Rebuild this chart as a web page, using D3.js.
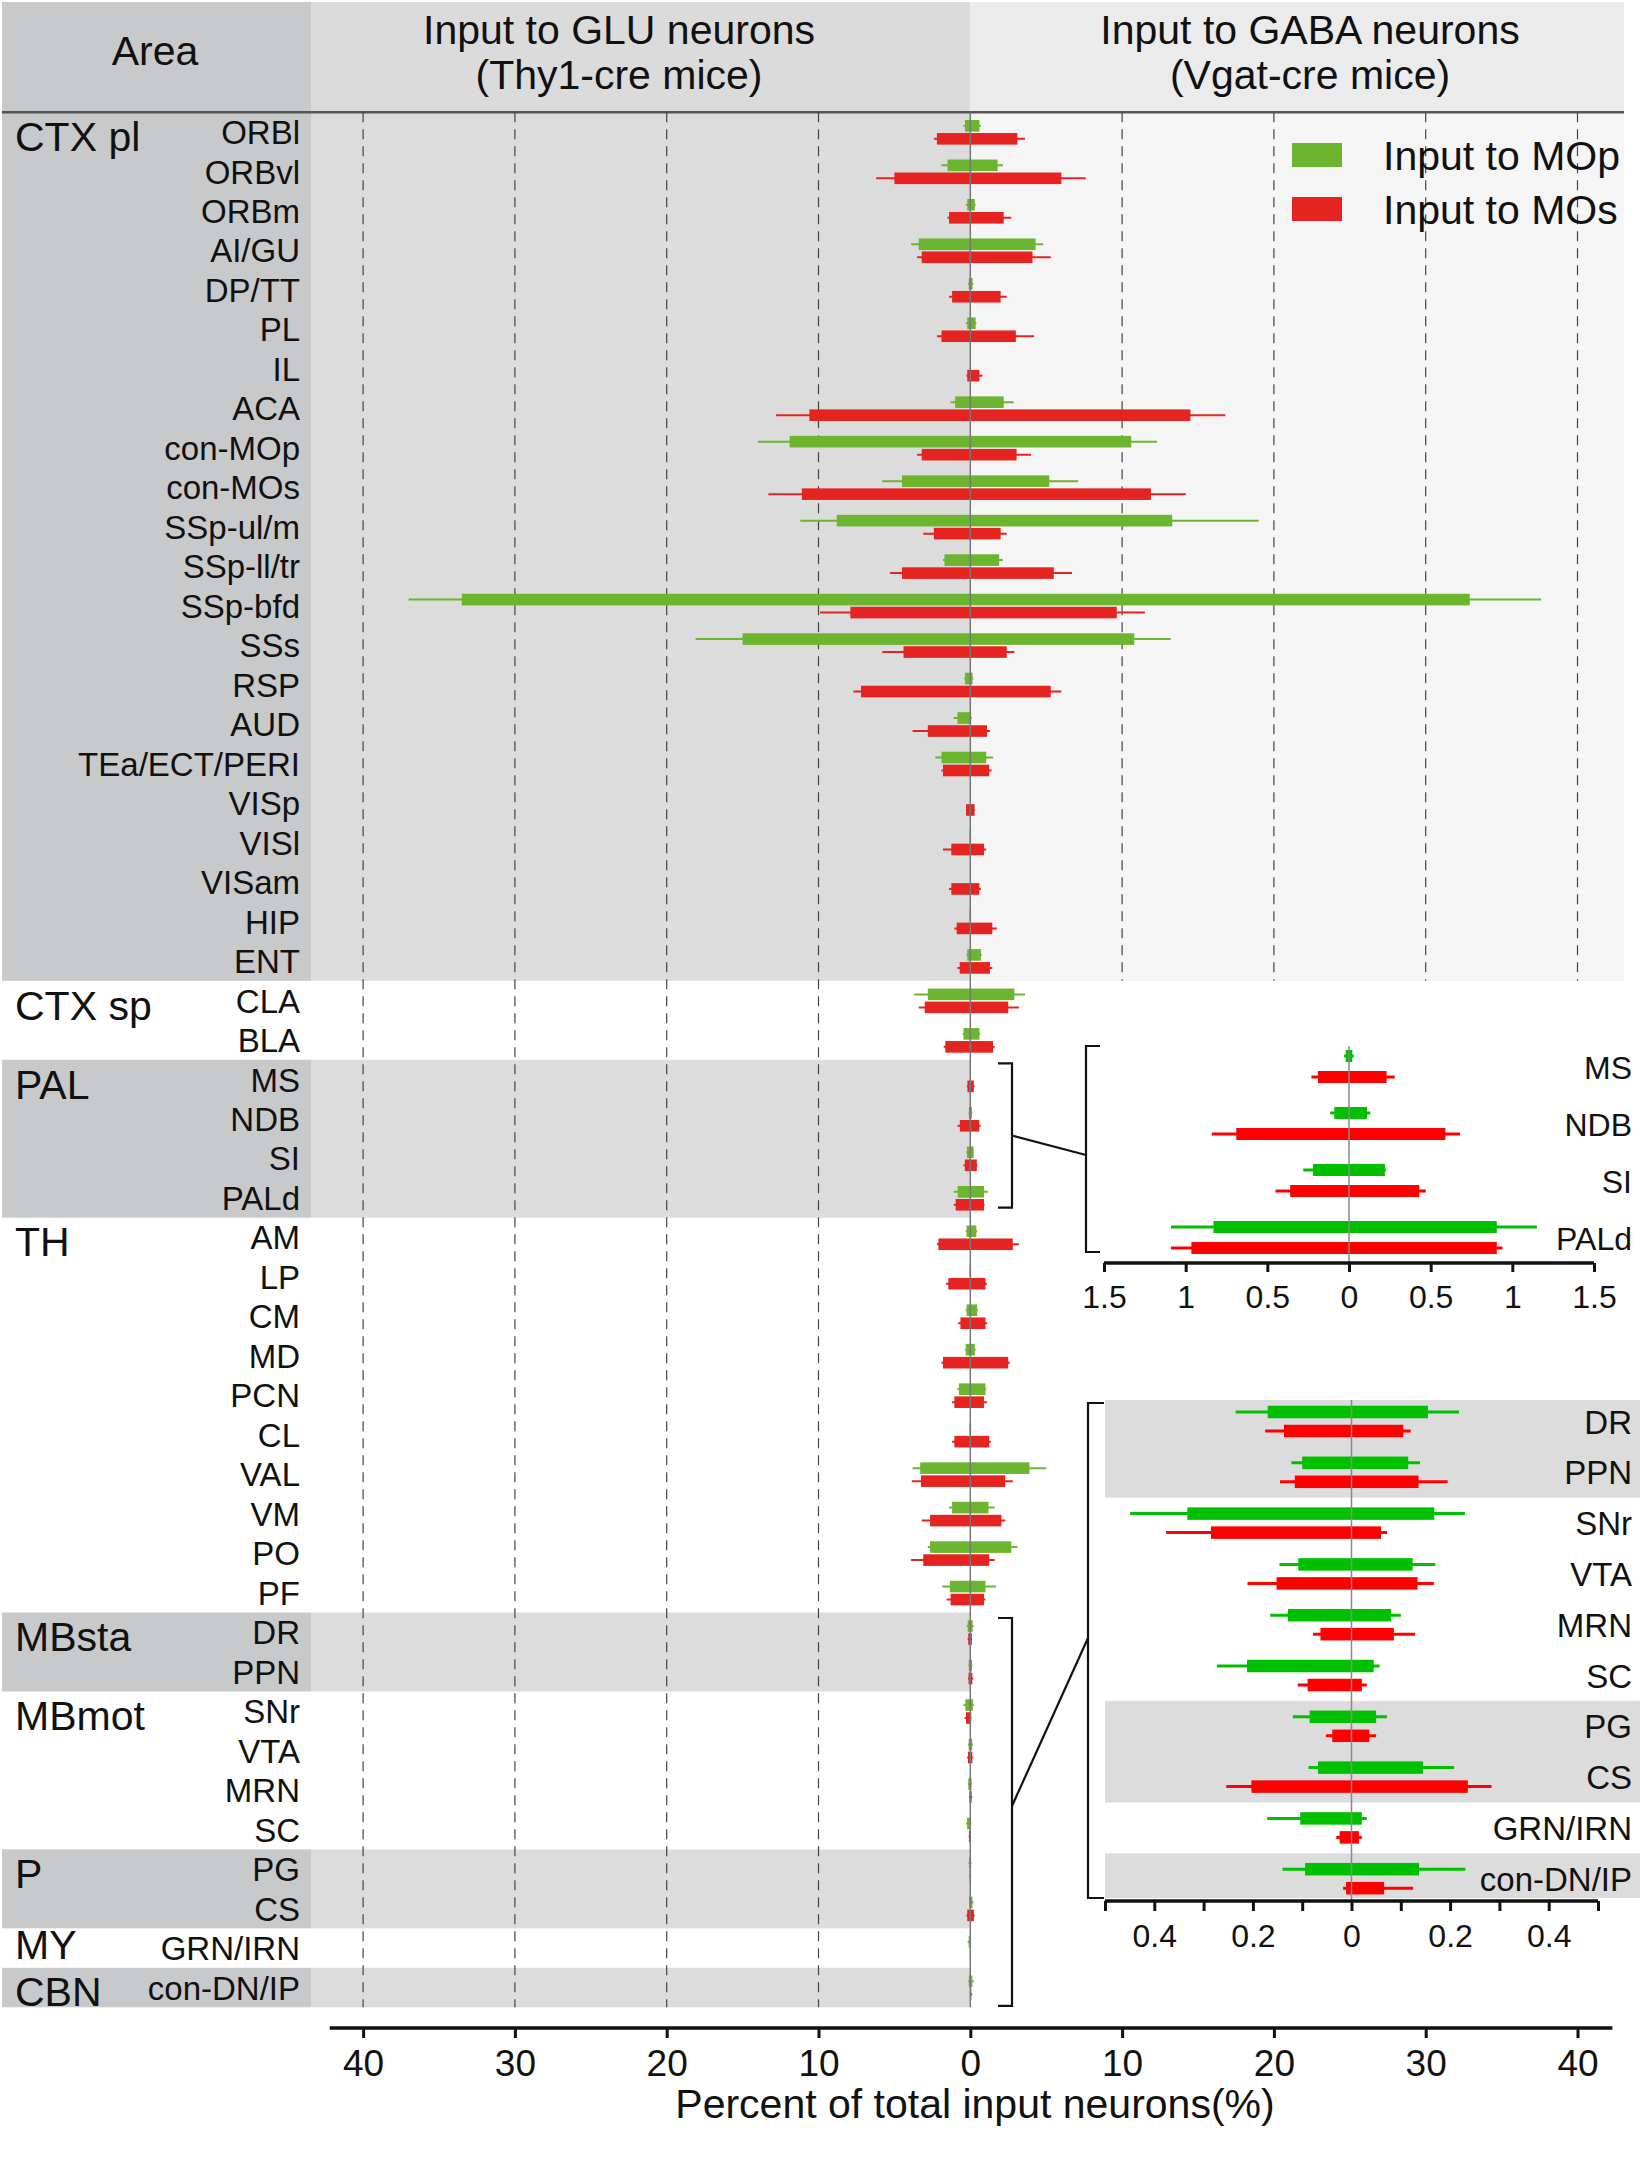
<!DOCTYPE html>
<html>
<head>
<meta charset="utf-8">
<script src="https://cdn.jsdelivr.net/npm/d3@7"></script>
<style>
body { margin: 0; background: #fff; }
text { font-family: Arial, "Liberation Sans", sans-serif; fill: #111; }
</style>
</head>
<body>
<div class="canvas"></div>
<script>
const w = 1650;
const h = 2165;

// ---- data ----
const regions = ["ORBl","ORBvl","ORBm","AI/GU","DP/TT","PL","IL","ACA","con-MOp","con-MOs",
  "SSp-ul/m","SSp-ll/tr","SSp-bfd","SSs","RSP","AUD","TEa/ECT/PERI","VISp","VISl","VISam","HIP","ENT",
  "CLA","BLA",
  "MS","NDB","SI","PALd",
  "AM","LP","CM","MD","PCN","CL","VAL","VM","PO","PF",
  "DR","PPN",
  "SNr","VTA","MRN","SC",
  "PG","CS",
  "GRN/IRN",
  "con-DN/IP"];

const sectionNames = ["CTX pl","CTX sp","PAL","TH","MBsta","MBmot","P","MY","CBN"];
const sectionSizes = [22, 2, 4, 10, 2, 4, 2, 1, 1];
const sectionShaded = [true, false, true, false, true, false, true, false, true];
// baseline shift of the section label below its first row centre
const sectionLabelShift = [19, 19, 19, 19, 19, 19, 19, 11, 18];

// Input to MOp (green): GLU side (Thy1-cre) and GABA side (Vgat-cre), mean and SEM
const mopGlu = [0.35,1.5,0.2,3.4,0.1,0.2,0.02,1.0,11.9,4.5,8.8,1.7,33.5,15.0,0.35,0.85,1.9,0.02,0.05,0.02,0.05,0.2,
  2.8,0.45, 0.02,0.09,0.22,0.83,
  0.25,0.05,0.25,0.3,0.75,0.05,3.3,1.2,2.65,1.35,
  0.17,0.10, 0.333,0.108,0.129,0.212, 0.085,0.068, 0.104, 0.094];
const mopGluSem = [0.1,0.4,0.1,0.5,0.05,0.1,0,0.3,2.1,1.3,2.4,0.1,3.5,3.1,0.05,0.25,0.4,0,0,0,0,0.05,
  0.9,0.05, 0.01,0.025,0.06,0.26,
  0.05,0,0.05,0.05,0.1,0,0.5,0.2,0.15,0.5,
  0.065,0.022, 0.116,0.038,0.036,0.061, 0.034,0.019, 0.067, 0.046];
const mopGaba = [0.6,1.8,0.3,4.3,0.15,0.35,0.02,2.2,10.6,5.2,13.3,1.9,32.9,10.8,0.15,0.05,1.05,0.02,0.05,0.02,0.05,0.7,
  2.9,0.6, 0.02,0.11,0.22,0.905,
  0.4,0.05,0.45,0.3,1.0,0.05,3.9,1.2,2.7,1.0,
  0.155,0.115, 0.168,0.124,0.08,0.045, 0.05,0.145, 0.021, 0.137];
const mopGabaSem = [0.1,0.35,0.05,0.5,0.05,0.05,0,0.65,1.7,1.9,5.7,0.25,4.7,2.4,0.05,0.05,0.45,0,0,0,0,0.05,
  0.7,0.05, 0.01,0.02,0.005,0.245,
  0.05,0,0.05,0.05,0.05,0,1.1,0.4,0.4,0.7,
  0.063,0.024, 0.062,0.046,0.02,0.012, 0.022,0.063, 0.01, 0.094];

// Input to MOs (red)
const mosGlu = [2.2,5.0,1.4,3.2,1.2,1.9,0.2,10.6,3.2,11.1,2.4,4.5,7.9,4.4,7.2,2.8,1.8,0.28,1.25,1.25,0.9,0.7,
  3.0,1.65, 0.19,0.69,0.36,0.965,
  2.1,1.45,0.65,1.8,1.05,1.05,3.25,2.65,3.1,1.3,
  0.137,0.115, 0.285,0.152,0.063,0.089, 0.039,0.203, 0.024, 0.011];
const mosGluSem = [0.2,1.2,0.1,0.3,0.2,0.3,0.05,2.2,0.3,2.2,0.7,0.8,2.0,1.4,0.5,1.0,0.1,0,0.55,0.15,0.15,0.15,
  0.4,0.1, 0.04,0.15,0.09,0.125,
  0.1,0.15,0.15,0.1,0.15,0.15,0.6,0.55,0.8,0.25,
  0.038,0.03, 0.091,0.059,0.015,0.02, 0.013,0.051, 0.007, 0.006];
const mosGaba = [3.1,6.0,2.2,4.1,2.0,3.0,0.6,14.5,3.05,11.9,2.0,5.5,9.65,2.4,5.3,1.1,1.25,0.28,0.9,0.6,1.45,1.3,
  2.5,1.5, 0.23,0.59,0.43,0.905,
  2.8,1.0,1.0,2.5,0.9,1.25,2.3,2.05,1.25,0.9,
  0.105,0.136, 0.06,0.134,0.086,0.021, 0.036,0.236, 0.015, 0.066];
const mosGabaSem = [0.5,1.6,0.5,1.2,0.4,1.2,0.2,2.3,0.95,2.3,0.4,1.2,1.85,0.5,0.7,0.2,0.15,0,0.15,0.1,0.3,0.15,
  0.7,0.1, 0.05,0.09,0.04,0.035,
  0.4,0.1,0.1,0.1,0.2,0.1,0.5,0.25,0.35,0.1,
  0.015,0.059, 0.012,0.033,0.043,0.01, 0.014,0.048, 0.006, 0.059];

const xTicks = [-40, -30, -20, -10, 0, 10, 20, 30, 40];
const inset1Ticks = [-1.5, -1, -0.5, 0, 0.5, 1, 1.5];
const inset2Ticks = [-0.5, -0.4, -0.3, -0.2, -0.1, 0, 0.1, 0.2, 0.3, 0.4, 0.5];
const inset2Labels = [-0.4, -0.2, 0, 0.2, 0.4];
const inset1Regions = ["MS","NDB","SI","PALd"];
const inset2Regions = ["DR","PPN","SNr","VTA","MRN","SC","PG","CS","GRN/IRN","con-DN/IP"];

const legendLabels = ["Input to MOp", "Input to MOs"];
const mainColors = ["#6cb52f", "#e52421"];
const insetColors = ["#00c000", "#ff0000"];

// ---- build rows ----
const sectionOf = [];
sectionNames.forEach((s, k) => { for (let j = 0; j < sectionSizes[k]; j++) sectionOf.push(k); });

const rows = regions.map((r, i) => ({
  name: r,
  section: sectionOf[i],
  series: [
    {glu: mopGlu[i], gluSem: mopGluSem[i], gaba: mopGaba[i], gabaSem: mopGabaSem[i]},
    {glu: mosGlu[i], gluSem: mosGluSem[i], gaba: mosGaba[i], gabaSem: mosGabaSem[i]}
  ]
}));
const rowByName = new Map(rows.map(d => [d.name, d]));

// ---- scales ----
const x = d3.scaleLinear().domain([-40, 40]).range([363.1, 1577.5]);
const y = d3.scaleBand().domain(regions).range([112.3, 2007.3]);
const bw = y.bandwidth();
const yc = r => y(r) + bw / 2;

const xi1 = d3.scaleLinear().domain([-1.5, 1.5]).range([1104, 1594]);
const yi1 = d3.scaleBand().domain(inset1Regions).range([1038, 1266]);
const xi2 = d3.scaleLinear().domain([-0.5, 0.5]).range([1105, 1598]);
const yi2 = d3.scaleBand().domain(inset2Regions).range([1396.1, 1904.1]);

const svg = d3.select(".canvas")
  .append("svg")
  .attr("width", w)
  .attr("height", h);

const areaRight = 311;
const plotRight = 1624;

// ---- backgrounds ----
const bg = svg.append("g");
bg.append("rect").attr("x", 2).attr("y", 2).attr("width", areaRight - 2).attr("height", 110.3).attr("fill", "#c8c9cb");
bg.append("rect").attr("x", areaRight).attr("y", 2).attr("width", x(0) - areaRight).attr("height", 110.3).attr("fill", "#dbdbdb");
bg.append("rect").attr("x", x(0)).attr("y", 2).attr("width", plotRight - x(0)).attr("height", 110.3).attr("fill", "#ebebec");

let start = 0;
const sections = sectionNames.map((s, k) => {
  const first = regions[start];
  const sec = {name: s, first: first, size: sectionSizes[k], shift: sectionLabelShift[k], top: y(first),
    bottom: y(first) + sectionSizes[k] * bw, shaded: sectionShaded[k]};
  start += sectionSizes[k];
  return sec;
});

sections.filter(s => s.shaded).forEach(s => {
  bg.append("rect").attr("x", 2).attr("y", s.top).attr("width", areaRight - 2).attr("height", s.bottom - s.top).attr("fill", "#c8c9cb");
  bg.append("rect").attr("x", areaRight).attr("y", s.top).attr("width", x(0) - areaRight).attr("height", s.bottom - s.top).attr("fill", "#dcdcdc");
  if (s.name === "CTX pl") {
    bg.append("rect").attr("x", x(0)).attr("y", s.top).attr("width", plotRight - x(0)).attr("height", s.bottom - s.top).attr("fill", "#f5f5f5");
  }
});

// header line
svg.append("line").attr("x1", 2).attr("x2", plotRight).attr("y1", 112.3).attr("y2", 112.3)
  .attr("stroke", "#555").attr("stroke-width", 2.5);

// header texts
const head = svg.append("g").style("font-size", "41px").attr("text-anchor", "middle");
head.append("text").attr("x", 155).attr("y", 65).text("Area");
head.append("text").attr("x", 619).attr("y", 44).text("Input to GLU neurons");
head.append("text").attr("x", 619).attr("y", 89).text("(Thy1-cre mice)");
head.append("text").attr("x", 1310).attr("y", 44).text("Input to GABA neurons");
head.append("text").attr("x", 1310).attr("y", 89).text("(Vgat-cre mice)");

// ---- grid ----
const ctxBottom = sections[0].bottom;
const grid = svg.append("g").attr("stroke", "#444").attr("stroke-width", 1.2).attr("stroke-dasharray", "10,7");
grid.selectAll("line.l").data(xTicks.filter(t => t < 0)).enter().append("line")
  .attr("x1", d => x(d)).attr("x2", d => x(d)).attr("y1", 112.3).attr("y2", 2007.3);
grid.selectAll("line.r").data(xTicks.filter(t => t > 0)).enter().append("line")
  .attr("x1", d => x(d)).attr("x2", d => x(d)).attr("y1", 112.3).attr("y2", ctxBottom);

// ---- bars ----
function drawBars(g, data, xs, ycenter, offsets, barH, colors, whiskerW) {
  data.forEach(d => {
    d.series.forEach((s, k) => {
      const cy = ycenter(d.name) + offsets[k];
      g.append("line")
        .attr("x1", xs(-(s.glu + s.gluSem))).attr("x2", xs(s.gaba + s.gabaSem))
        .attr("y1", cy).attr("y2", cy)
        .attr("stroke", colors[k]).attr("stroke-width", whiskerW);
      g.append("rect")
        .attr("x", xs(-s.glu)).attr("width", Math.max(1, xs(s.gaba) - xs(-s.glu)))
        .attr("y", cy - barH / 2).attr("height", barH)
        .attr("fill", colors[k]);
    });
  });
}

const barsG = svg.append("g");
drawBars(barsG, rows, x, yc, [-6.2, 6.8], 11.6, mainColors, 2);

svg.append("line").attr("x1", x(0)).attr("x2", x(0)).attr("y1", 112.3).attr("y2", 2007.3)
  .attr("stroke", "#777").attr("stroke-width", 1.5);

// ---- row and section labels ----
svg.append("g").style("font-size", "33px").attr("text-anchor", "end")
  .selectAll("text").data(regions).enter().append("text")
  .attr("x", 300).attr("y", d => yc(d) + 12).text(d => d);

svg.append("g").style("font-size", "41px")
  .selectAll("text").data(sections).enter().append("text")
  .attr("x", 15).attr("y", d => yc(d.first) + d.shift).text(d => d.name);

// ---- main axis ----
const axisY = 2028;
svg.append("line").attr("x1", x(-42.2)).attr("x2", x(42.3)).attr("y1", axisY).attr("y2", axisY)
  .attr("stroke", "#111").attr("stroke-width", 3.5);
const ax = svg.append("g").attr("transform", `translate(0,${axisY})`)
  .call(d3.axisBottom(x).tickValues(xTicks).tickFormat(d => Math.abs(d)).tickSize(10).tickPadding(12));
ax.select(".domain").remove();
ax.selectAll(".tick line").attr("stroke", "#111").attr("stroke-width", 3);
ax.selectAll(".tick text").style("font-size", "37px").attr("fill", "#111")
  .style("font-family", "Arial, 'Liberation Sans', sans-serif");

svg.append("text").attr("x", 975).attr("y", 2118).attr("text-anchor", "middle")
  .style("font-size", "41px").text("Percent of total input neurons(%)");

// ---- legend ----
const legend = svg.append("g").selectAll("g").data(legendLabels).enter().append("g")
  .attr("transform", (d, i) => `translate(1292,${143 + i * 54})`);
legend.append("rect").attr("width", 50).attr("height", 24).attr("fill", (d, i) => mainColors[i]);
legend.append("text").attr("x", 91).attr("y", 27).style("font-size", "41px").text(d => d);

// ---- brackets in main chart ----
const brk = svg.append("g").attr("fill", "none").attr("stroke", "#111").attr("stroke-width", 2.2);
const palTop = y("MS") + 3.5, palBot = y("PALd") + bw - 10;
const mbTop = y("DR") + 5.5, mbBot = y("con-DN/IP") + bw - 1.5;
brk.append("path").attr("d", `M998,${palTop}H1012V${palBot}H998`);
brk.append("path").attr("d", `M998,${mbTop}H1012V${mbBot}H998`);

// ---- inset 1 (PAL) ----
const i1Top = 1046, i1Bot = 1252, i1Axis = 1263;
brk.append("path").attr("d", `M1100,${i1Top}H1086V${i1Bot}H1100`);
brk.append("path").attr("d", `M1012,${(palTop + palBot) / 2}L1086,1155`);

const ins1 = svg.append("g");
drawBars(ins1, inset1Regions.map(r => rowByName.get(r)), xi1, r => yi1(r) + yi1.bandwidth() / 2,
  [-10.5, 10.5], 12, insetColors, 3);
ins1.append("line").attr("x1", xi1(0)).attr("x2", xi1(0)).attr("y1", i1Top).attr("y2", i1Axis)
  .attr("stroke", "#888").attr("stroke-width", 1.5);
ins1.append("line").attr("x1", xi1(-1.5)).attr("x2", xi1(1.5)).attr("y1", i1Axis).attr("y2", i1Axis)
  .attr("stroke", "#111").attr("stroke-width", 3.5);
const ax1 = ins1.append("g").attr("transform", `translate(0,${i1Axis})`)
  .call(d3.axisBottom(xi1).tickValues(inset1Ticks).tickFormat(d => Math.abs(d)).tickSize(9).tickPadding(13));
ax1.select(".domain").remove();
ax1.selectAll(".tick line").attr("stroke", "#111").attr("stroke-width", 3);
ax1.selectAll(".tick text").style("font-size", "32px").attr("fill", "#111")
  .style("font-family", "Arial, 'Liberation Sans', sans-serif");
ins1.append("g").style("font-size", "32px").attr("text-anchor", "end")
  .selectAll("text").data(inset1Regions).enter().append("text")
  .attr("x", 1632).attr("y", d => yi1(d) + yi1.bandwidth() / 2 + 12).text(d => d);

// ---- inset 2 (MB, P, MY, CBN) ----
const i2Top = 1403, i2Bot = 1898, i2Axis = 1901;
const ins2 = svg.append("g");
// one shaded band per shaded section
sections.filter(s => s.shaded && inset2Regions.includes(s.first)).forEach(s => {
  const last = inset2Regions[inset2Regions.indexOf(s.first) + s.size - 1];
  const t = Math.max(1400, yi2(s.first)), b = Math.min(i2Bot, yi2(last) + yi2.bandwidth());
  ins2.append("rect").attr("x", xi2(-0.5)).attr("y", t).attr("width", 1640 - xi2(-0.5)).attr("height", b - t)
    .attr("fill", "#dcdcdc");
});
brk.raise();
brk.append("path").attr("d", `M1104,${i2Top}H1088V${i2Bot}H1104`);
brk.append("path").attr("d", `M1012,1806L1088,1638`);

drawBars(ins2, inset2Regions.map(r => rowByName.get(r)), xi2, r => yi2(r) + yi2.bandwidth() / 2,
  [-9.5, 9.5], 12.5, insetColors, 3);
ins2.append("line").attr("x1", xi2(0)).attr("x2", xi2(0)).attr("y1", 1400).attr("y2", i2Axis)
  .attr("stroke", "#888").attr("stroke-width", 1.5);
ins2.append("line").attr("x1", xi2(-0.5)).attr("x2", xi2(0.5)).attr("y1", i2Axis).attr("y2", i2Axis)
  .attr("stroke", "#111").attr("stroke-width", 3.5);
const ax2 = ins2.append("g").attr("transform", `translate(0,${i2Axis})`)
  .call(d3.axisBottom(xi2).tickValues(inset2Ticks)
    .tickFormat(d => inset2Labels.some(v => Math.abs(v - d) < 1e-9) ? Math.abs(d) : "")
    .tickSize(10).tickPadding(13));
ax2.select(".domain").remove();
ax2.selectAll(".tick line").attr("stroke", "#111").attr("stroke-width", 3);
ax2.selectAll(".tick text").style("font-size", "32px").attr("fill", "#111")
  .style("font-family", "Arial, 'Liberation Sans', sans-serif");
ins2.append("g").style("font-size", "33px").attr("text-anchor", "end")
  .selectAll("text").data(inset2Regions).enter().append("text")
  .attr("x", 1632).attr("y", d => yi2(d) + yi2.bandwidth() / 2 + 12).text(d => d);
</script>
</body>
</html>
